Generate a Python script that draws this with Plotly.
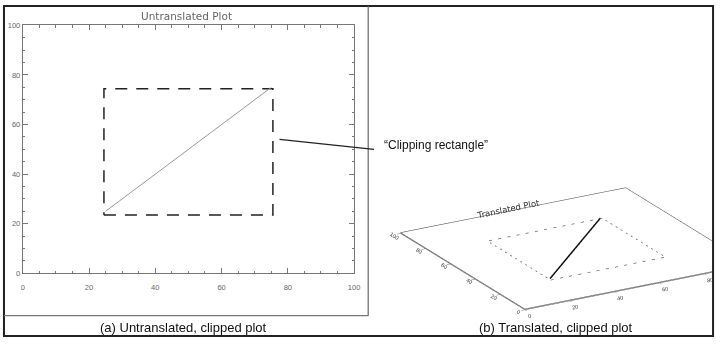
import plotly.graph_objects as go

W, H = 723, 345

# ---------------- data ----------------
axis_range = [0, 100]
major_ticks = [0, 20, 40, 60, 80, 100]
tick_text = ["0", "20", "40", "60", "80", "100"]
minor_step = 5
clip_x = [24.5, 75.5]          # clipping rectangle (x extent)
clip_y = [23.5, 74.5]          # clipping rectangle (y extent)
line_x = [25, 75]              # clipped diagonal line
line_y = [25, 75]
title_a = "Untranslated Plot"
title_b = "Translated Plot"
caption_a = "(a) Untranslated, clipped plot"
caption_b = "(b) Translated, clipped plot"
callout = "\u201cClipping rectangle\u201d"
callout_point = [77.5, 54]     # where the callout leader touches (data units)


def px(x):
    return x / W


def py(y):
    return 1 - y / H


lo, hi = axis_range
rect_x = [clip_x[0], clip_x[1], clip_x[1], clip_x[0], clip_x[0]]
rect_y = [clip_y[0], clip_y[0], clip_y[1], clip_y[1], clip_y[0]]
frame_x = [lo, hi, hi, lo, lo]
frame_y = [lo, lo, hi, hi, lo]

fig = go.Figure()

# ---- (a) untranslated 2D plot ----
fig.add_trace(go.Scatter(x=rect_x, y=rect_y, mode="lines",
                         line=dict(color="#222", width=1.5, dash="12px,9px"),
                         hoverinfo="skip", showlegend=False))
fig.add_trace(go.Scatter(x=line_x, y=line_y, mode="lines",
                         line=dict(color="#999", width=1),
                         hoverinfo="skip", showlegend=False))

# ---- (b) translated plot in 3D ----
fig.add_trace(go.Scatter3d(x=frame_x, y=frame_y, z=[0] * 5, mode="lines",
                           line=dict(color="#444", width=1),
                           hoverinfo="skip", showlegend=False, scene="scene"))
fig.add_trace(go.Scatter3d(x=rect_x, y=rect_y, z=[0] * 5, mode="lines",
                           line=dict(color="#666", width=1.5, dash="dash"),
                           hoverinfo="skip", showlegend=False, scene="scene"))
fig.add_trace(go.Scatter3d(x=line_x, y=line_y, z=[0, 0], mode="lines",
                           line=dict(color="#111", width=3),
                           hoverinfo="skip", showlegend=False, scene="scene"))

axis_common = dict(range=axis_range, tickvals=major_ticks, ticktext=tick_text,
                   ticks="inside", ticklen=5, tickwidth=1, tickcolor="#777",
                   showline=True, linecolor="#777", linewidth=1,
                   mirror="allticks", showgrid=False, zeroline=False,
                   minor=dict(dtick=minor_step, ticks="inside", ticklen=2.5,
                              tickcolor="#777", showgrid=False),
                   tickfont=dict(family="Liberation Sans", size=7.5, color="#666"))

ax3 = dict(range=axis_range, tickvals=major_ticks, showline=True,
           linecolor="#444", linewidth=1, ticks="inside", ticklen=4,
           tickcolor="#444", showticklabels=False, showgrid=False,
           zeroline=False, showbackground=False, showspikes=False,
           title=dict(text=""))

# tick labels of the translated plot, placed along its axes in data space
lab_font = dict(family="Liberation Sans", size=5.5, color="#333")
scene_ann = [dict(x=50, y=hi, z=0, text=title_b, showarrow=False,
                  textangle=-11.7, xshift=-5, yshift=2,
                  font=dict(family="DejaVu Sans", size=8.5, color="#333"))]
for v, t in zip(major_ticks, tick_text):
    scene_ann.append(dict(x=lo, y=v, z=0, text=t, showarrow=False,
                          textangle=31, xshift=-6, yshift=-2.5, font=lab_font))
    scene_ann.append(dict(x=v, y=lo, z=0, text=t, showarrow=False,
                          textangle=-11, xshift=5, yshift=-6, font=lab_font))

fig.update_layout(
    width=W, height=H, margin=dict(l=0, r=0, t=0, b=0),
    paper_bgcolor="white", plot_bgcolor="white", showlegend=False,
    xaxis=dict(domain=[px(21), px(356)], anchor="y", ticklabelstandoff=7,
               **axis_common),
    yaxis=dict(domain=[py(276.5), py(22)], anchor="x", **axis_common),
    scene=dict(
        domain=dict(x=[px(372), px(719)], y=[py(322), py(140)]),
        xaxis=ax3, yaxis=ax3,
        zaxis=dict(visible=False, range=[-1, 1]),
        aspectmode="manual",
        aspectratio=dict(x=2.905, y=2.905, z=0.02),
        camera=dict(eye=dict(x=-1.4206, y=-1.8088, z=1.0753),
                    center=dict(x=-0.2943, y=0.2505, z=0.2143),
                    up=dict(x=0.1747, y=0.2970, z=0.9388),
                    projection=dict(type="orthographic")),
        bgcolor="rgba(0,0,0,0)",
        annotations=scene_ann,
    ),
    shapes=[
        dict(type="rect", xref="paper", yref="paper", x0=px(2), x1=px(719),
             y0=py(341), y1=py(2), line=dict(color="#222", width=2)),
        dict(type="line", xref="paper", yref="paper", x0=px(370.3), x1=px(370.3),
             y0=py(2), y1=py(320), line=dict(color="#666", width=1.2)),
        dict(type="line", xref="paper", yref="paper", x0=px(2), x1=px(370.3),
             y0=py(320), y1=py(320), line=dict(color="#777", width=1.2)),
    ],
    annotations=[
        dict(xref="paper", yref="paper", x=px(187), y=py(12), text=title_a,
             xanchor="center", yanchor="middle", showarrow=False,
             font=dict(family="DejaVu Sans", size=10.5, color="#666")),
        dict(xref="x", yref="y", x=callout_point[0], y=callout_point[1], text="",
             showarrow=True, arrowhead=0, arrowwidth=1.2, arrowcolor="#222",
             axref="pixel", ayref="pixel", ax=96, ay=10),
        dict(xref="paper", yref="paper", x=px(384), y=py(145), text=callout,
             xanchor="left", yanchor="middle", showarrow=False,
             font=dict(family="Liberation Sans", size=12, color="#111")),
        dict(xref="paper", yref="paper", x=px(184), y=py(332), text=caption_a,
             xanchor="center", yanchor="middle", showarrow=False,
             font=dict(family="Liberation Sans", size=13, color="#111")),
        dict(xref="paper", yref="paper", x=px(560), y=py(332), text=caption_b,
             xanchor="center", yanchor="middle", showarrow=False,
             font=dict(family="Liberation Sans", size=13, color="#111")),
    ],
)

fig.write_html("out.html")
